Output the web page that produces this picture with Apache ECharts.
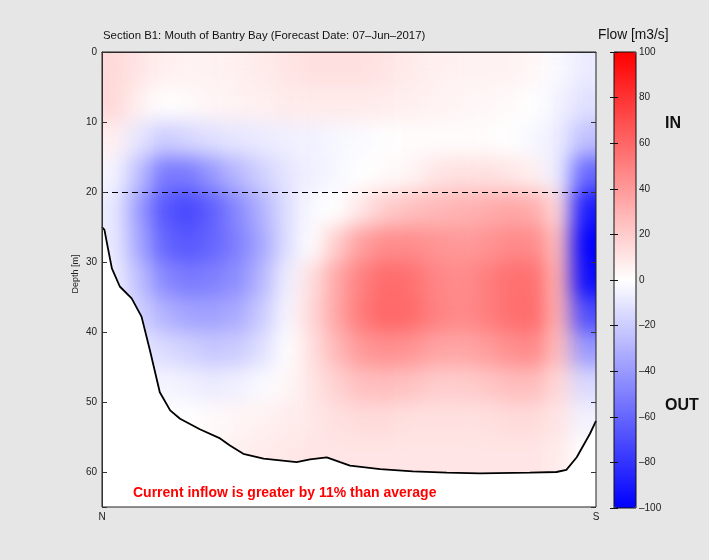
<!DOCTYPE html>
<html>
<head>
<meta charset="utf-8">
<script src="https://cdn.jsdelivr.net/npm/echarts@6/dist/echarts.min.js"></script>
<style>
  html, body { margin: 0; padding: 0; background: #e6e6e6; }
  #wrap { position: relative; width: 709px; height: 560px; background: #e6e6e6; overflow: hidden; }
  #field { position: absolute; left: 102px; top: 52px; width: 494px; height: 455px; overflow: hidden; background: #fff; }
  #fieldChart { position: absolute; left: 0; top: 0; width: 494px; height: 455px; filter: url(#smooth); }
  #main { position: absolute; left: 0; top: 0; width: 709px; height: 560px; }
</style>
</head>
<body>
<svg width="0" height="0" style="position:absolute">
  <filter id="smooth" x="0" y="0" width="1" height="1" color-interpolation-filters="sRGB">
    <feGaussianBlur stdDeviation="10"/>
    <feComponentTransfer><feFuncA type="table" tableValues="1 1"/></feComponentTransfer>
  </filter>
</svg>
<div id="wrap">
  <div id="field"><div id="fieldChart"></div></div>
  <div id="main"></div>
</div>
<script>
// cell centres along the section (0 = N, 100 = S) and in depth [m]
const sectionX = [2.5, 7.5, 12.5, 17.5, 22.5, 27.5, 32.5, 37.5, 42.5, 47.5,
  52.5, 57.5, 62.5, 67.5, 72.5, 77.5, 82.5, 87.5, 92.5, 97.5]
const depthRows = [2.5, 7.5, 12.5, 17.5, 22.5, 27.5, 32.5, 37.5, 42.5, 47.5, 52.5, 57.5, 62.5]

// flow [m3/s], one row per depth
const flow = [
  [15, 10, 6, 5, 5, 6, 8, 10, 12, 12, 12, 10, 8, 6, 5, 5, 5, 3, -2, -8],
  [15, 6, 0, 2, 4, 5, 6, 8, 8, 8, 8, 7, 6, 5, 4, 3, 2, 0, -5, -12],
  [6, -10, -20, -16, -12, -10, -8, -6, -5, -3, -2, 0, 1, 1, 1, 1, 0, -3, -8, -25],
  [-4, -25, -52, -52, -40, -28, -18, -10, -6, -3, 0, 2, 4, 10, 12, 12, 10, 6, -8, -60],
  [-8, -38, -66, -72, -62, -46, -30, -12, -2, 0, 10, 20, 25, 28, 30, 32, 35, 32, 15, -90],
  [-8, -34, -60, -66, -60, -50, -34, -12, 0, 20, 38, 45, 45, 42, 40, 42, 46, 46, 25, -100],
  [-6, -25, -46, -52, -50, -44, -28, -6, 12, 34, 50, 58, 56, 48, 45, 50, 56, 56, 30, -95],
  [-5, -18, -30, -36, -37, -33, -20, -3, 15, 35, 52, 60, 58, 50, 46, 50, 56, 58, 30, -70],
  [-4, -10, -14, -18, -22, -20, -12, 0, 12, 28, 40, 44, 42, 36, 35, 38, 44, 46, 25, -40],
  [-3, -4, -4, -6, -8, -6, -2, 3, 10, 18, 25, 26, 24, 20, 20, 22, 26, 26, 15, -15],
  [0, 0, 0, 0, 2, 4, 5, 7, 9, 12, 14, 14, 12, 12, 12, 12, 14, 14, 10, -5],
  [0, 0, 0, 2, 4, 6, 8, 9, 10, 10, 10, 10, 10, 10, 10, 10, 10, 10, 8, 0],
  [0, 0, 0, 2, 4, 6, 8, 9, 10, 10, 10, 10, 10, 10, 10, 10, 10, 10, 8, 0]
]

// sea bed profile
const bottomX = [0, 0.5, 1, 2, 3.6, 6, 8, 9.7, 11.7, 13.8, 15.8, 19.8, 23.9, 25.9, 28.6, 32.7,
  39.4, 42.1, 45.5, 48.2, 50.2, 56.3, 62.9, 69.8, 76.5, 86.6, 92, 94, 96.1, 98.8, 100]
const bottomDepth = [25, 25.4, 27.3, 30.9, 33.5, 35.2, 37.8, 42.6, 48.6, 51.2, 52.4, 53.9, 55.2, 56.2, 57.4, 58.1,
  58.6, 58.2, 57.9, 58.6, 59.1, 59.6, 59.9, 60.1, 60.2, 60.1, 60, 59.7, 57.9, 54.5, 52.7]

const refDepth = 20
const flowMin = -100
const flowMax = 100
const flowColors = ['#0000ff', '#ffffff', '#ff0000']
const font = '"Liberation Sans", Arial, sans-serif'

const cells = []
flow.forEach((row, j) => row.forEach((v, i) => cells.push([i, j, v])))

// smooth field, blurred with an svg filter underneath the axes
const field = echarts.init(document.getElementById('fieldChart'))
field.setOption({
  animation: false,
  grid: { left: 0, right: 0, top: 0, bottom: 0 },
  xAxis: { type: 'category', data: sectionX, show: false },
  yAxis: { type: 'category', data: depthRows, inverse: true, show: false },
  visualMap: { show: false, min: flowMin, max: flowMax, inRange: { color: flowColors } },
  series: [{ type: 'heatmap', data: cells }]
})

const chart = echarts.init(document.getElementById('main'))
chart.setOption({
  animation: false,
  backgroundColor: 'transparent',
  textStyle: { fontFamily: font },
  grid: [
    { left: 102, top: 52, width: 494, height: 455, show: true, borderColor: '#222', borderWidth: 1, z: 6 },
    { left: 614, top: 52, width: 22, height: 456, show: true, borderColor: '#111', borderWidth: 1, z: 6 }
  ],
  xAxis: [
    {
      gridIndex: 0, type: 'value', min: 0, max: 100, interval: 100,
      axisLine: { lineStyle: { color: '#333' } },
      axisTick: { show: false },
      splitLine: { show: false },
      axisLabel: {
        fontSize: 10, color: '#222', margin: 5,
        formatter: v => (v === 0 ? 'N' : v === 100 ? 'S' : '')
      }
    },
    { gridIndex: 1, type: 'value', show: false }
  ],
  yAxis: [
    {
      gridIndex: 0, type: 'value', min: 0, max: 65, interval: 10, inverse: true,
      axisLine: { show: true, lineStyle: { color: '#333' } },
      axisTick: { inside: true, length: 5, lineStyle: { color: '#333' } },
      splitLine: { show: false },
      axisLabel: { fontSize: 10, color: '#222', margin: 5, formatter: v => (v % 10 === 0 ? v : '') },
      z: 7
    },
    {
      gridIndex: 0, type: 'value', min: 0, max: 65, interval: 10, inverse: true, position: 'right',
      axisLine: { show: false },
      axisTick: { inside: true, length: 5, lineStyle: { color: '#333' } },
      axisLabel: { show: false },
      splitLine: { show: false },
      z: 7
    },
    {
      gridIndex: 1, type: 'value', min: flowMin, max: flowMax, interval: 20, position: 'right',
      axisLine: { show: false },
      axisTick: { inside: true, length: 4, lineStyle: { color: '#111' } },
      axisLabel: { fontSize: 10, color: '#222', margin: 3, formatter: v => (v < 0 ? '–' + (-v) : String(v)) },
      splitLine: { show: false },
      z: 7
    },
    {
      gridIndex: 1, type: 'value', min: flowMin, max: flowMax, interval: 20, position: 'left',
      axisLine: { show: false },
      axisTick: { inside: true, length: 4, lineStyle: { color: '#111' } },
      axisLabel: { show: false },
      splitLine: { show: false },
      z: 7
    }
  ],
  visualMap: {
    type: 'continuous', seriesIndex: [], min: flowMin, max: flowMax,
    calculable: false, left: 614, top: 52, padding: 0,
    itemWidth: 22, itemHeight: 456, inRange: { color: flowColors }, z: 1
  },
  graphic: [
    { type: 'text', left: 103, top: 30, style: { text: 'Section B1: Mouth of Bantry Bay (Forecast Date: 07–Jun–2017)', font: '11.4px ' + font, fill: '#111' } },
    { type: 'text', left: 598, top: 28, style: { text: 'Flow [m3/s]', font: '13.8px ' + font, fill: '#111' } },
    { type: 'text', left: 665, top: 116, style: { text: 'IN', font: 'bold 16px ' + font, fill: '#111' } },
    { type: 'text', left: 665, top: 398, style: { text: 'OUT', font: 'bold 16px ' + font, fill: '#111' } },
    { type: 'text', left: 133, top: 486, z: 10, style: { text: 'Current inflow is greater by 11% than average', font: 'bold 14px ' + font, fill: '#ff0000' } },
    { type: 'text', x: 76, y: 274, rotation: Math.PI / 2, style: { text: 'Depth [m]', font: '9px ' + font, fill: '#222', align: 'center', verticalAlign: 'middle' } }
  ],
  series: [
    {
      type: 'line',
      xAxisIndex: 0, yAxisIndex: 0,
      data: bottomX.map((x, i) => [x, bottomDepth[i]]),
      symbol: 'none',
      lineStyle: { color: '#000', width: 1.8 },
      areaStyle: { color: '#fff', opacity: 1, origin: 'end' },
      z: 3,
      markLine: {
        silent: true,
        symbol: ['none', 'none'],
        label: { show: false },
        lineStyle: { color: '#000', type: [6, 4], width: 1 },
        data: [{ yAxis: refDepth }]
      }
    }
  ]
})
</script>
</body>
</html>
